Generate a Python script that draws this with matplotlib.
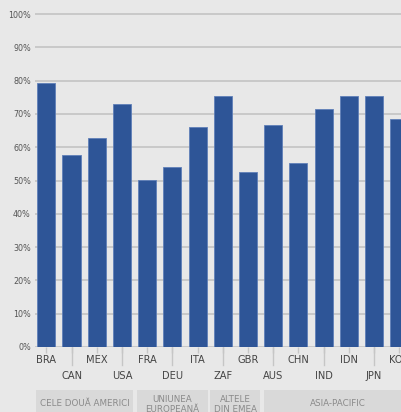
import matplotlib
matplotlib.use("Agg")
import matplotlib.pyplot as plt
import matplotlib.transforms as mtransforms
from matplotlib.patches import Rectangle

# Share of respondents per country, in percent
countries = ["BRA", "CAN", "MEX", "USA", "FRA", "DEU", "ITA", "ZAF",
             "GBR", "AUS", "CHN", "IND", "IDN", "JPN", "KOR"]
values = [79.4, 57.8, 62.8, 72.9, 50.2, 54.2, 66.0, 75.3,
          52.6, 66.8, 55.4, 71.6, 75.3, 75.3, 68.5]
y_ticks = [0, 10, 20, 30, 40, 50, 60, 70, 80, 90, 100]
y_tick_labels = [f"{t}%" for t in y_ticks]

groups = ["CELE DOUĂ AMERICI", "UNIUNEA\nEUROPEANĂ", "ALTELE\nDIN EMEA", "ASIA-PACIFIC"]
# box spans along the category axis (layout only)
group_spans = [(-0.41, 3.43), (3.61, 6.40), (6.50, 8.48), (8.65, 14.45)]

BG = "#e8e8e8"
BAR = "#2e5597"
GRID = "#c6c6c6"
NARROW = dict(family="DejaVu Sans", stretch="condensed")

W, H = 401, 412
fig = plt.figure(figsize=(W / 100, H / 100), dpi=100)
fig.patch.set_facecolor(BG)

# axes in pixel terms: x from 35 to right edge, y 0% at 347, 100% at 14
px_per_pct = (347 - 14) / 100
top_px = 14 - 1 * px_per_pct
ax = fig.add_axes([35 / W, (H - 347) / H, (W - 35) / W, (347 - top_px) / H])
ax.set_facecolor(BG)

x = list(range(len(countries)))
ax.bar(x, values, width=0.72, color=BAR, edgecolor="#5f7fb8", linewidth=0.6, zorder=3)

ax.set_ylim(0, 101)
ax.set_xlim(-0.45, 14.07)
ax.set_yticks(y_ticks)
ax.set_yticklabels(y_tick_labels, fontsize=6.4, color="#555555", **NARROW)
ax.yaxis.grid(True, color=GRID, linewidth=1.3, zorder=0)
ax.tick_params(axis="y", length=0, pad=3)
for s in ax.spines.values():
    s.set_visible(False)

# category labels in two staggered rows, with short and long ticks
ax.set_xticks(x)
ax.set_xticklabels([])
ax.tick_params(axis="x", length=4, color=GRID, width=1)
xform = mtransforms.blended_transform_factory(ax.transData, fig.transFigure)
for i, c in enumerate(countries):
    if i % 2 == 0:
        ax.text(i, (H - 360) / H, c, transform=xform, ha="center", va="center",
                fontsize=7.9, color="#444444", **NARROW)
    else:
        ax.text(i, (H - 376) / H, c, transform=xform, ha="center", va="center",
                fontsize=7.9, color="#444444", **NARROW)
        ax.plot([i, i], [(H - 347) / H, (H - 365) / H], transform=xform,
                color=GRID, linewidth=1, clip_on=False)

# group boxes
box_top = (H - 390) / H
for label, (x0, x1) in zip(groups, group_spans):
    ax.add_patch(Rectangle((x0, 0), x1 - x0, box_top, transform=xform,
                           facecolor="#d9d9d9", edgecolor="none", clip_on=False))
    if "\n" in label:
        ax.text((x0 + x1) / 2, (H - 404.5) / H, label, transform=xform,
                ha="center", va="center", fontsize=6.3, color="#8a8a8a",
                family="DejaVu Sans", linespacing=1.05)
    else:
        ax.text((x0 + x1) / 2, (H - 403) / H, label, transform=xform,
                ha="center", va="center", fontsize=6.3, color="#8a8a8a",
                family="DejaVu Sans")

fig.savefig("out.png", dpi=100, facecolor=BG)
